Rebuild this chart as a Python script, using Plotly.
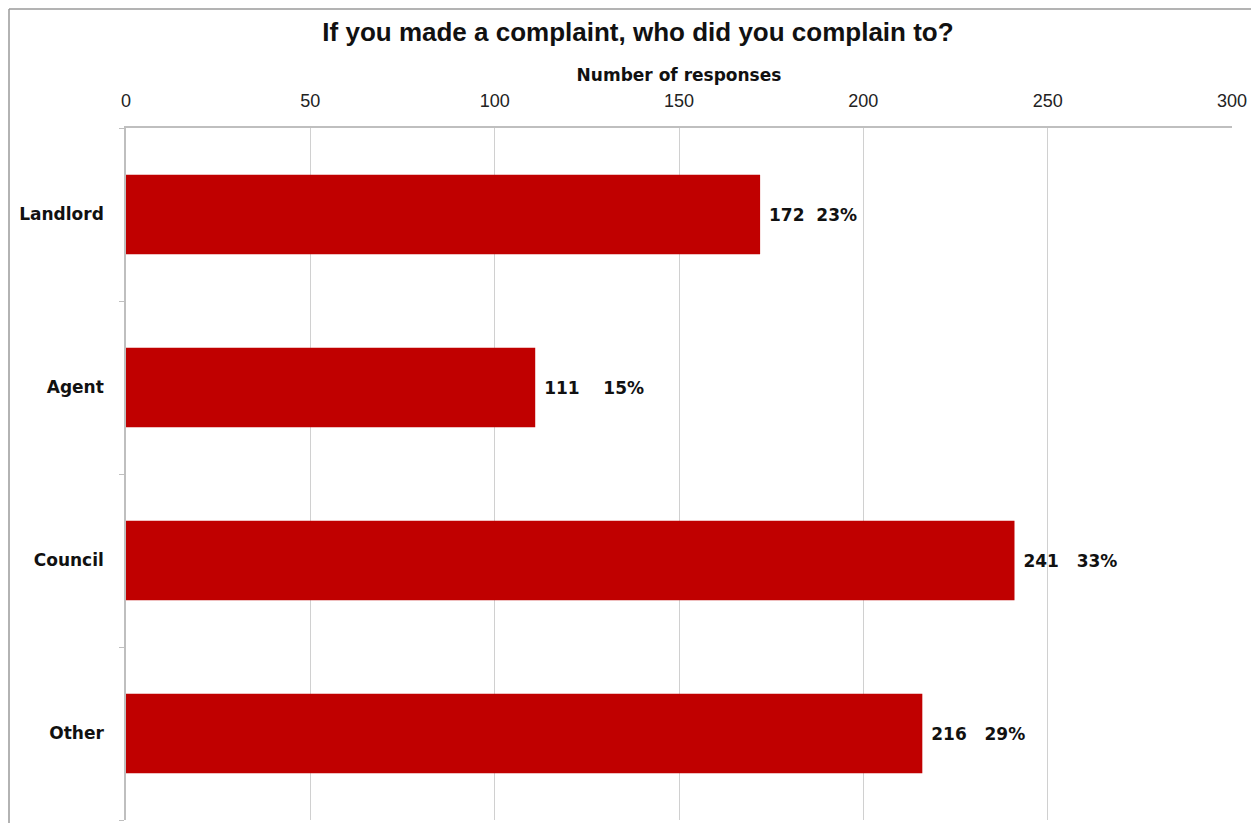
import plotly.graph_objects as go

categories = ["Landlord", "Agent", "Council", "Other"]
responses = [172, 111, 241, 216]
percentages = ["23%", "15%", "33%", "29%"]
x_ticks = [0, 50, 100, 150, 200, 250, 300]

# label spacing (style only)
label_gaps = [2, 4, 3, 3]

OFF = 8  # default page body margin
W, H = 1259 - OFF, 823 - OFF
L, R, T, B = 126 - OFF, 27, 128 - OFF, 3

labels = ["\u00a0" + f"{v}" + "\u00a0" * g + p
          for v, p, g in zip(responses, percentages, label_gaps)]

fig = go.Figure(go.Bar(
    x=responses, y=categories, orientation="h",
    marker=dict(color="#C00000", line=dict(width=0)),
    width=0.46,
    text=labels, textposition="outside",
    textfont=dict(family="DejaVu Sans", size=17, color="#111111", weight="bold"),
    cliponaxis=False,
    hoverinfo="x+y",
))

pw = W - L - R
ph = H - T - B
def px_x(p):  # p in page pixels
    return (p - OFF - L) / pw
def px_y(p):
    return (H - B - (p - OFF)) / ph

fig.update_layout(
    width=W, height=H,
    margin=dict(l=L, r=R, t=T, b=B, autoexpand=False),
    paper_bgcolor="white", plot_bgcolor="white",
    showlegend=False,
    title=dict(text="<b>If you made a complaint, who did you complain to?</b>",
               x=(638 - OFF) / W, xanchor="center", y=1 - (32 - OFF) / H, yanchor="middle",
               font=dict(family="Liberation Sans", size=26, color="#111111")),
    xaxis=dict(
        side="top", range=[0, 300], tickvals=x_ticks,
        showgrid=True, gridcolor="#D0D0D0", gridwidth=1,
        showline=True, linecolor="#BFBFBF", linewidth=1.5,
        ticks="", zeroline=False,
        tickfont=dict(family="Liberation Sans", size=18, color="#222222"),
        ticklabelstandoff=12,
        title=dict(text="<b>Number of responses</b>", standoff=5,
                   font=dict(family="DejaVu Sans", size=17, color="#111111")),
        fixedrange=True,
    ),
    yaxis=dict(
        categoryorder="array", categoryarray=categories[::-1],
        autorange=False, range=[-0.5, 3.5],
        showline=True, linecolor="#BFBFBF", linewidth=1.5,
        ticks="outside", tickson="boundaries", ticklen=5, tickcolor="#BFBFBF",
        showgrid=False,
        tickfont=dict(family="DejaVu Sans", size=17, color="#111111", weight="bold"),
        ticklabelstandoff=17,
        fixedrange=True,
    ),
    shapes=[
        dict(type="line", xref="paper", yref="paper",
             x0=px_x(9), x1=px_x(9), y0=px_y(830), y1=px_y(9),
             line=dict(color="#9A9A9A", width=1.5)),
        dict(type="line", xref="paper", yref="paper",
             x0=px_x(9), x1=px_x(1270), y0=px_y(9), y1=px_y(9),
             line=dict(color="#9A9A9A", width=1.5)),
    ],
)

fig.write_html("out.html")
